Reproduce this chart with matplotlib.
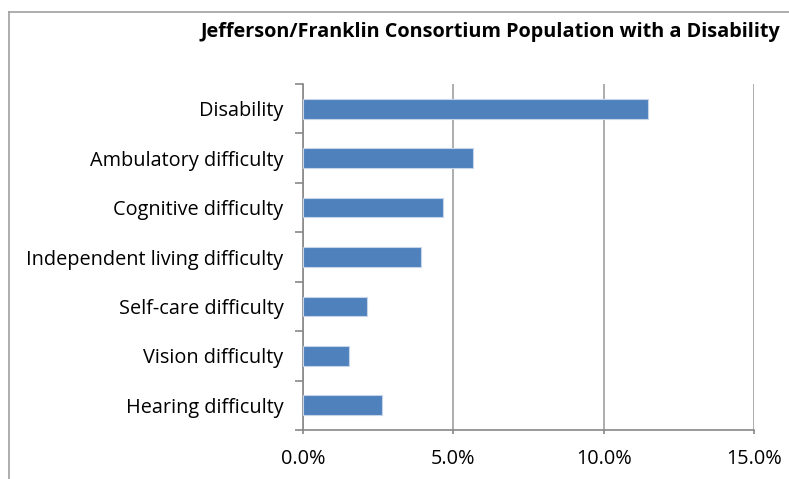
import matplotlib
matplotlib.use('Agg')
from matplotlib import pyplot as plt
from matplotlib.ticker import FuncFormatter
import matplotlib.lines as mlines

categories = ['Hearing difficulty', 'Vision difficulty', 'Self-care difficulty',
              'Independent living difficulty', 'Cognitive difficulty',
              'Ambulatory difficulty', 'Disability']
values = [2.62, 1.52, 2.14, 3.93, 4.64, 5.67, 11.46]
x_ticks = [0, 5, 10, 15]
title = 'Jefferson/Franklin Consortium Population with a Disability'

plt.rcParams['font.family'] = ['Open Sans', 'DejaVu Sans']

fig = plt.figure(figsize=(7.89, 4.79), dpi=100)
ax = fig.add_axes([303 / 789, 1 - 430 / 479, (754 - 303) / 789, (430 - 84) / 479])

pos = list(range(len(categories)))
ax.barh(pos, values, height=0.4, color='#4F81BD', edgecolor='#C6D5EA', linewidth=0.8, zorder=3)

ax.set_xlim(0, 15)
ax.set_ylim(-0.5, len(categories) - 0.5)
ax.set_xticks(x_ticks)
ax.xaxis.set_major_formatter(FuncFormatter(lambda v, p: '%.1f%%' % v))
ax.set_yticks(pos)
ax.set_yticklabels(categories)
ax.set_yticks([p - 0.5 for p in pos] + [len(categories) - 0.5], minor=True)

ax.grid(axis='x', color='#A0A0A0', linewidth=1.2, zorder=0)
for s in ['top', 'right']:
    ax.spines[s].set_visible(False)
for s in ['left', 'bottom']:
    ax.spines[s].set_color('#888888')
    ax.spines[s].set_linewidth(1.2)

ax.tick_params(axis='y', which='major', length=0, pad=14, labelsize=14.3, labelcolor='black')
ax.tick_params(axis='y', which='minor', length=6, color='#888888', width=1.2)
ax.tick_params(axis='x', which='major', length=3, color='#888888', width=1.2,
               pad=11, labelsize=14.3)

fig.text(780 / 789, 1 - 32 / 479, title, ha='right', va='center',
         fontsize=14.3, fontweight='bold')

# outer chart frame (cropped on right and bottom)
fig.add_artist(mlines.Line2D([9 / 789, 9 / 789], [0, 1 - 12 / 479],
                             transform=fig.transFigure, color='#A0A0A0', linewidth=1.2))
fig.add_artist(mlines.Line2D([9 / 789, 1], [1 - 12 / 479, 1 - 12 / 479],
                             transform=fig.transFigure, color='#A0A0A0', linewidth=1.2))

fig.savefig('out.png', dpi=100)
